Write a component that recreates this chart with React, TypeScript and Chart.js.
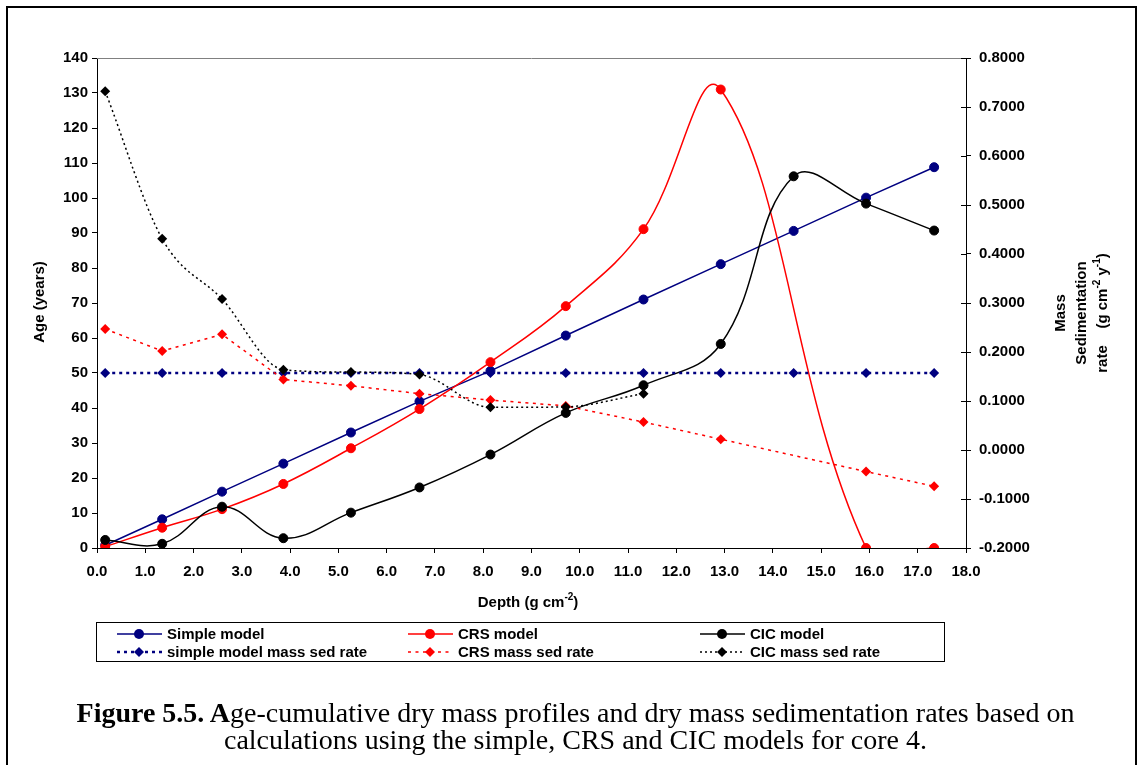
import React, { useEffect, useRef } from 'react';
import { Chart, registerables } from 'chart.js';
Chart.register(...registerables);

// ---- data ----
const depth = [0.17, 1.35, 2.59, 3.86, 5.26, 6.68, 8.15, 9.71, 11.32, 12.92, 14.43, 15.93, 17.34];
const simpleAge = [0.8, 8.2, 16.1, 24.1, 33.0, 41.9, 50.6, 60.7, 71.0, 81.1, 90.6, 100.1, 108.8];
const crsAge = [0.4, 5.8, 11.1, 18.3, 28.5, 39.7, 53.1, 69.1, 91.1, 131.0, null, 0, 0];
const cicAge = [2.3, 1.2, 11.8, 2.8, 10.1, 17.3, 26.7, 38.6, 46.5, 58.3, 106.2, 98.4, 90.7];
const simpleRate = [0.157, 0.157, 0.157, 0.157, 0.157, 0.157, 0.157, 0.157, 0.157, 0.157, 0.157, 0.157, 0.157];
const crsRate = [0.247, 0.202, 0.236, 0.144, 0.131, 0.115, 0.102, 0.090, 0.057, 0.022, null, -0.044, -0.074];
const cicRate = [0.732, 0.431, 0.308, 0.164, 0.159, 0.154, 0.087, 0.088, 0.115];

const seriesLabels = ['Simple model', 'CRS model', 'CIC model', 'simple model mass sed rate', 'CRS mass sed rate', 'CIC mass sed rate'];
const xRange = [0, 18];
const ageRange = [0, 140];
const rateRange = [-0.2, 0.8];

const NAVY = '#000080';
const RED = '#FF0000';
const BLACK = '#000000';
const FONT = "'Liberation Sans', Arial, sans-serif";
const FS = 15;

const toPts = (ys: (number | null)[]) => ys.map((y, i) => ({ x: depth[i], y }));

function drawRich(ctx: CanvasRenderingContext2D, parts: [string, boolean][], x: number, y: number, size: number) {
  const supSize = Math.round(size * 0.68);
  let total = 0;
  for (const [t, sup] of parts) {
    ctx.font = `bold ${sup ? supSize : size}px ${FONT}`;
    total += ctx.measureText(t).width;
  }
  let cx = x - total / 2;
  ctx.textAlign = 'left';
  ctx.textBaseline = 'middle';
  for (const [t, sup] of parts) {
    ctx.font = `bold ${sup ? supSize : size}px ${FONT}`;
    ctx.fillText(t, cx, sup ? y - size * 0.38 : y);
    cx += ctx.measureText(t).width;
  }
}

const customPlugin = {
  id: 'customDraw',
  beforeDatasetsDraw(chart: any) {
    const { ctx, chartArea: a } = chart;
    ctx.save();
    ctx.strokeStyle = '#808080';
    ctx.lineWidth = 1;
    ctx.beginPath();
    ctx.moveTo(a.left, a.top + 0.5);
    ctx.lineTo(a.right, a.top + 0.5);
    ctx.stroke();
    ctx.restore();
  },
  afterDraw(chart: any) {
    const { ctx, chartArea: a } = chart;
    ctx.save();
    ctx.fillStyle = '#000';
    ctx.strokeStyle = '#000';
    // inner ticks on right axis
    const y2 = chart.scales.y2;
    ctx.lineWidth = 1;
    ctx.beginPath();
    y2.ticks.forEach((t: any) => {
      const py = Math.round(y2.getPixelForValue(t.value)) + 0.5;
      ctx.moveTo(a.right - 5, py);
      ctx.lineTo(a.right, py);
    });
    ctx.stroke();

    // axis titles
    ctx.save();
    ctx.translate(40, 302);
    ctx.rotate(-Math.PI / 2);
    drawRich(ctx, [['Age (years)', false]], 0, 0, FS);
    ctx.restore();

    drawRich(ctx, [['Depth (g cm', false], ['-2', true], [')', false]], 528, 603, FS);

    const rLines: [string, boolean][][] = [
      [['Mass', false]],
      [['Sedimentation', false]],
      [['rate    (g cm', false], ['-2', true], [' y', false], ['-1', true], [')', false]],
    ];
    const rx = [1061, 1082, 1103];
    rLines.forEach((parts, i) => {
      ctx.save();
      ctx.translate(rx[i], 313);
      ctx.rotate(-Math.PI / 2);
      drawRich(ctx, parts, 0, 0, FS);
      ctx.restore();
    });

    // legend
    ctx.lineWidth = 1;
    ctx.setLineDash([]);
    ctx.strokeRect(96.5, 622.5, 848, 39);
    const cols = [117, 408, 700];
    const rows = [634, 652];
    chart.data.datasets.forEach((ds: any, i: number) => {
      const col = cols[i % 3];
      const row = rows[Math.floor(i / 3)];
      ctx.save();
      ctx.strokeStyle = ds.borderColor;
      ctx.fillStyle = ds.borderColor;
      ctx.lineWidth = ds.borderWidth;
      ctx.setLineDash(ds.borderDash || []);
      ctx.beginPath();
      ctx.moveTo(col, row);
      ctx.lineTo(col + 45, row);
      ctx.stroke();
      ctx.setLineDash([]);
      const mx = col + 22;
      ctx.beginPath();
      if (ds.pointStyle === 'rectRot') {
        const r = 5;
        ctx.moveTo(mx, row - r);
        ctx.lineTo(mx + r, row);
        ctx.lineTo(mx, row + r);
        ctx.lineTo(mx - r, row);
        ctx.closePath();
      } else {
        ctx.arc(mx, row, 5, 0, Math.PI * 2);
      }
      ctx.fill();
      ctx.fillStyle = '#000';
      ctx.font = `bold ${FS}px ${FONT}`;
      ctx.textAlign = 'left';
      ctx.textBaseline = 'middle';
      ctx.fillText(ds.label, col + 50, row + 0.5);
      ctx.restore();
    });

    // outer frame
    ctx.lineWidth = 2;
    ctx.strokeRect(7, 7, 1129, 800);
    ctx.restore();
  },
};

export default function App() {
  const ref = useRef<HTMLCanvasElement | null>(null);
  useEffect(() => {
    document.body.style.margin = '0';
    const canvas = ref.current!;
    const tickFont = { family: FONT, size: FS, weight: 'bold' as const };
    const grid = { drawOnChartArea: false, drawTicks: true, tickLength: 5, color: '#000', lineWidth: 1 };
    const border = { display: true, color: '#000', width: 1 };
    const chart = new Chart(canvas, {
      type: 'line',
      data: {
        datasets: [
          { label: seriesLabels[0], data: toPts(simpleAge), yAxisID: 'y', borderColor: NAVY, backgroundColor: NAVY, borderWidth: 1.5, pointStyle: 'circle', pointRadius: 4.5, pointBorderWidth: 1, tension: 0, order: 6 },
          { label: seriesLabels[1], data: toPts(crsAge), yAxisID: 'y', borderColor: RED, backgroundColor: RED, borderWidth: 1.5, pointStyle: 'circle', pointRadius: 4.5, pointBorderWidth: 1, tension: 0.4, spanGaps: true, order: 5 },
          { label: seriesLabels[2], data: toPts(cicAge), yAxisID: 'y', borderColor: BLACK, backgroundColor: BLACK, borderWidth: 1.5, pointStyle: 'circle', pointRadius: 4.5, pointBorderWidth: 1, tension: 0.4, order: 4 },
          { label: seriesLabels[3], data: toPts(simpleRate), yAxisID: 'y2', borderColor: NAVY, backgroundColor: NAVY, borderWidth: 2.5, borderDash: [3, 4], pointStyle: 'rectRot', pointRadius: 5, pointBorderWidth: 0, tension: 0, order: 3 },
          { label: seriesLabels[4], data: toPts(crsRate), yAxisID: 'y2', borderColor: RED, backgroundColor: RED, borderWidth: 1.5, borderDash: [3, 4.5], pointStyle: 'rectRot', pointRadius: 5, pointBorderWidth: 0, tension: 0, spanGaps: true, order: 2 },
          { label: seriesLabels[5], data: toPts(cicRate), yAxisID: 'y2', borderColor: BLACK, backgroundColor: BLACK, borderWidth: 1.5, borderDash: [2, 3], pointStyle: 'rectRot', pointRadius: 5, pointBorderWidth: 0, cubicInterpolationMode: 'monotone', order: 1 },
        ] as any,
      },
      options: {
        animation: false,
        responsive: false,
        maintainAspectRatio: false,
        devicePixelRatio: 1,
        layout: { padding: { top: 58, left: 0, right: 0, bottom: 0 } },
        elements: { line: { capBezierPoints: false } },
        plugins: { legend: { display: false }, tooltip: { enabled: false }, title: { display: false } },
        scales: {
          x: {
            type: 'linear', min: xRange[0], max: xRange[1],
            ticks: { stepSize: 1, font: tickFont, color: '#000', padding: 10, maxRotation: 0, autoSkip: false, callback: (v: any) => Number(v).toFixed(1) },
            grid, border,
            afterFit: (s: any) => { s.height = 765 - 548; },
          },
          y: {
            type: 'linear', position: 'left', min: ageRange[0], max: ageRange[1],
            ticks: { stepSize: 10, font: tickFont, color: '#000', padding: 4, autoSkip: false },
            grid, border,
            afterFit: (s: any) => { s.width = 97; },
          },
          y2: {
            type: 'linear', position: 'right', min: rateRange[0], max: rateRange[1],
            ticks: { stepSize: 0.1, font: tickFont, color: '#000', padding: 8, autoSkip: false, callback: (v: any) => Number(v).toFixed(4) },
            grid, border,
            afterFit: (s: any) => { s.width = 1140 - 966; },
          },
        },
      } as any,
      plugins: [customPlugin],
    });
    return () => chart.destroy();
  }, []);

  const capStyle: React.CSSProperties = {
    position: 'absolute', left: 0, width: 1151, textAlign: 'center',
    fontFamily: "'Liberation Serif', 'Times New Roman', serif", fontSize: 28, lineHeight: '28px', color: '#000', whiteSpace: 'nowrap',
  };
  return (
    <div style={{ position: 'absolute', left: 0, top: 0, width: 1140, height: 765, overflow: 'hidden', background: '#fff' }}>
      <canvas ref={ref} width={1140} height={765} style={{ position: 'absolute', left: 0, top: 0, width: 1140, height: 765 }} />
      <div style={{ ...capStyle, top: 699 }}>
        <b>Figure 5.5. A</b>ge-cumulative dry mass profiles and dry mass sedimentation rates based on
      </div>
      <div style={{ ...capStyle, top: 726 }}>
        calculations using the simple, CRS and CIC models for core 4.
      </div>
    </div>
  );
}
